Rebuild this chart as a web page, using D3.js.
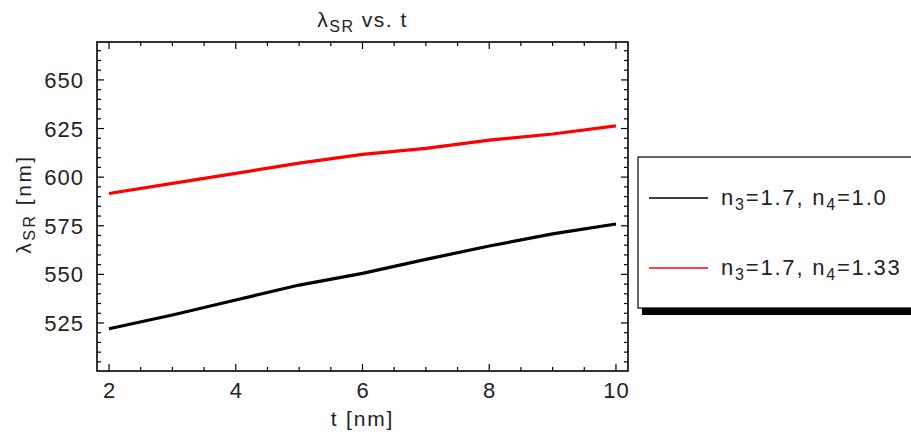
<!DOCTYPE html>
<html>
<head>
<meta charset="utf-8">
<script src="https://cdn.jsdelivr.net/npm/d3@7"></script>
<style>
  body { margin: 0; background: #fff; }
  text { font-family: "Liberation Sans", Arial, sans-serif; fill: #222; }
</style>
</head>
<body>
<div id="chart"></div>
<script>
// values
var tValues = [2, 3, 4, 5, 6, 7, 8, 9, 10];
var lambdaN4_100 = [522.0, 529.1, 536.8, 544.5, 550.5, 557.7, 564.6, 570.8, 575.9];
var lambdaN4_133 = [591.6, 596.8, 601.9, 607.2, 611.7, 614.8, 619.0, 622.2, 626.4];
var seriesNames = [["1.7", "1.0"], ["1.7", "1.33"]];
var seriesColors = ["#000", "#ff0000"];
var xTicks = [2, 4, 6, 8, 10];
var yTicks = [525, 550, 575, 600, 625, 650];

var width = 911, height = 435;
var frame = {left: 97, right: 628, top: 42, bottom: 371};

var svg = d3.select("#chart").append("svg")
  .attr("width", width)
  .attr("height", height);

var x = d3.scaleLinear().domain([1.81, 10.19]).range([frame.left, frame.right]);
var y = d3.scaleLinear().domain([500.3, 669.5]).range([frame.bottom, frame.top]);

// minor ticks every 0.5 / 5
var xMinor = d3.range(2, 10.01, 0.5).filter(d => xTicks.indexOf(d) < 0);
var yMinor = d3.range(505, 666, 5).filter(d => yTicks.indexOf(d) < 0);

function tickLines(g, axis, vals, len, side) {
  g.selectAll(null).data(vals).enter().append("line")
    .attr("x1", d => axis === "x" ? x(d) : side)
    .attr("x2", d => axis === "x" ? x(d) : side + len)
    .attr("y1", d => axis === "y" ? y(d) : side)
    .attr("y2", d => axis === "y" ? y(d) : side + len)
    .attr("stroke", "#000")
    .attr("stroke-width", 1.2);
}

var ticks = svg.append("g");
tickLines(ticks, "x", xTicks, -7, frame.bottom);
tickLines(ticks, "x", xMinor, -4, frame.bottom);
tickLines(ticks, "x", xTicks, 7, frame.top);
tickLines(ticks, "x", xMinor, 4, frame.top);
tickLines(ticks, "y", yTicks, 7, frame.left);
tickLines(ticks, "y", yMinor, 4, frame.left);
tickLines(ticks, "y", yTicks, -7, frame.right);
tickLines(ticks, "y", yMinor, -4, frame.right);

svg.append("rect")
  .attr("x", frame.left)
  .attr("y", frame.top)
  .attr("width", frame.right - frame.left)
  .attr("height", frame.bottom - frame.top)
  .attr("fill", "none")
  .attr("stroke", "#000")
  .attr("stroke-width", 1.6);

svg.selectAll(".xlab").data(xTicks).enter().append("text")
  .attr("class", "xlab")
  .attr("x", d => x(d) + 0.5)
  .attr("y", 398)
  .attr("text-anchor", "middle")
  .style("font-size", "22px")
  .style("letter-spacing", "1px")
  .text(d => d);

svg.selectAll(".ylab").data(yTicks).enter().append("text")
  .attr("class", "ylab")
  .attr("x", 84)
  .attr("y", d => y(d) + 8)
  .attr("text-anchor", "end")
  .style("font-size", "22px")
  .style("letter-spacing", "1px")
  .text(d => d);

// series lines
var line = d3.line()
  .x((d, i) => x(tValues[i]))
  .y(d => y(d));

[lambdaN4_100, lambdaN4_133].forEach((s, i) => {
  svg.append("path")
    .datum(s)
    .attr("fill", "none")
    .attr("stroke", seriesColors[i])
    .attr("stroke-width", 3.2)
    .attr("d", line);
});

// title
var title = svg.append("text")
  .attr("x", (frame.left + frame.right) / 2)
  .attr("y", 27)
  .attr("text-anchor", "middle")
  .style("font-size", "21px")
  .style("letter-spacing", "1.5px");
title.append("tspan").text("λ");
title.append("tspan").attr("dy", 5).style("font-size", "16px").text("SR");
title.append("tspan").attr("dy", -5).text(" vs. t");

// x label
svg.append("text")
  .attr("x", (frame.left + frame.right) / 2)
  .attr("y", 426)
  .attr("text-anchor", "middle")
  .style("font-size", "21px")
  .style("letter-spacing", "1.8px")
  .text("t [nm]");

// y label
var ylab = svg.append("text")
  .attr("transform", "translate(31," + 204 + ") rotate(-90)")
  .attr("text-anchor", "middle")
  .style("font-size", "21px")
  .style("letter-spacing", "2.5px");
ylab.append("tspan").text("λ");
ylab.append("tspan").attr("dy", 4).style("font-size", "16px").text("SR");
ylab.append("tspan").attr("dy", -4).text("  [nm]");

// legend
var lg = svg.append("g");
lg.append("rect")
  .attr("x", 642).attr("y", 161)
  .attr("width", 300).attr("height", 154)
  .attr("fill", "#000");
lg.append("rect")
  .attr("x", 638).attr("y", 157)
  .attr("width", 300).attr("height", 151)
  .attr("fill", "#fff")
  .attr("stroke", "#000")
  .attr("stroke-width", 1.2);

seriesNames.forEach((n, i) => {
  var yy = 198 + i * 70;
  lg.append("line")
    .attr("x1", 649).attr("x2", 708)
    .attr("y1", yy).attr("y2", yy)
    .attr("stroke", seriesColors[i])
    .attr("stroke-width", 1.5);
  var t = lg.append("text")
    .attr("x", 721)
    .attr("y", yy + 7)
    .style("font-size", "22px")
    .style("letter-spacing", "1.8px");
  t.append("tspan").text("n");
  t.append("tspan").attr("dy", 5).style("font-size", "16px").text("3");
  t.append("tspan").attr("dy", -5).text("=" + n[0] + ", n");
  t.append("tspan").attr("dy", 5).style("font-size", "16px").text("4");
  t.append("tspan").attr("dy", -5).text("=" + n[1]);
});
</script>
</body>
</html>
